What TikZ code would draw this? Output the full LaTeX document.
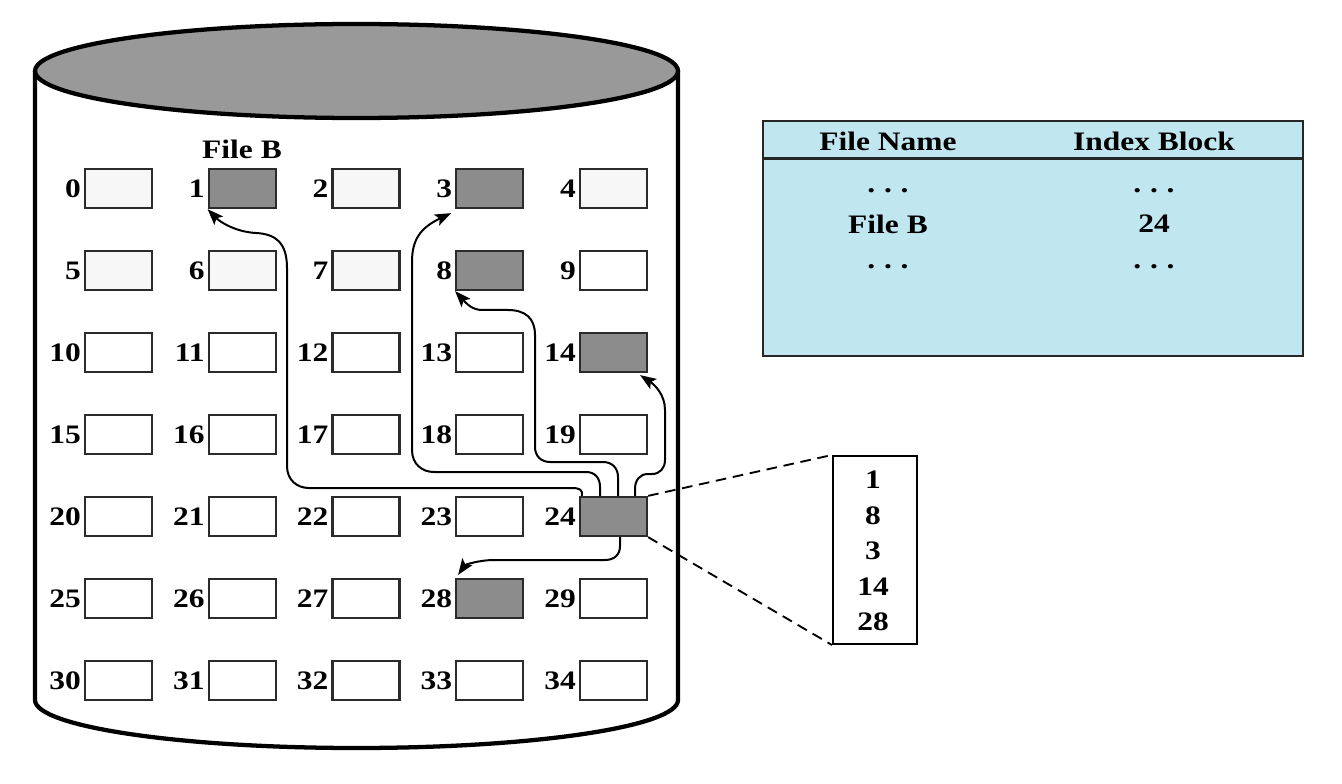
\documentclass[tikz,border=0pt]{standalone}
\usepackage{fontspec}
\setmainfont{Liberation Serif}
\usetikzlibrary{arrows.meta,calc}
\definecolor{shadefill}{HTML}{8C8C8C}
\definecolor{topgray}{HTML}{999999}
\definecolor{tblue}{HTML}{C0E6F0}
\definecolor{edgegray}{HTML}{2B2B2B}
\newcommand\wtxt[1]{\scalebox{1.18}[1]{#1}}
\begin{document}
\begin{tikzpicture}[x=0.75pt,y=-0.75pt,
  blk/.style={draw=edgegray, line width=1.7pt, fill=white, minimum width=50.25pt, minimum height=29.25pt, inner sep=0pt},
  used/.style={blk, fill=shadefill},
  pale/.style={blk, fill=black!3},
  lbl/.style={font=\fontsize{20}{24}\selectfont\bfseries, inner sep=0pt, anchor=east},
  txt/.style={font=\fontsize{20}{24}\selectfont\bfseries, inner sep=0pt},
  cyl/.style={line width=3.2pt, line join=round},
  arr/.style={line width=1.5pt, -{Stealth[length=12pt,width=9pt,inset=2.5pt]}},
  dsh/.style={line width=1.4pt, dash pattern=on 8pt off 5pt}
]
\useasboundingbox (0,0) rectangle (1342,784);

% cylinder
\draw[cyl] (35,71) -- (35,700) .. controls (35,726.5) and (179,748) .. (356.5,748)
  .. controls (534,748) and (678,726.5) .. (678,700) -- (678,71);
\draw[cyl, fill=topgray] (356.5,71) ellipse [x radius=241.1pt, y radius=35.25pt];

% blocks
\foreach \i/\s in {0/pale,1/used,2/pale,3/used,4/pale,5/pale,6/pale,7/pale,8/used,9/blk,
  10/blk,11/blk,12/blk,13/blk,14/used,15/blk,16/blk,17/blk,18/blk,19/blk,
  20/blk,21/blk,22/blk,23/blk,24/used,25/blk,26/blk,27/blk,28/used,29/blk,
  30/blk,31/blk,32/blk,33/blk,34/blk}{
  \pgfmathsetmacro\cx{118.5+123.75*mod(\i,5)}
  \pgfmathsetmacro\cy{188.5+82*floor(\i/5)}
  \node[\s] (b\i) at (\cx,\cy) {};
  \node[lbl] (l\i) at ([xshift=-2pt]b\i.west) {\wtxt{\i}};
}

\node[txt] (fb) at (242,149) {\wtxt{File B}};

% arrows from index block 24
\draw[arr] ($(b24.north west)+(3,0)$) .. controls (583,490) and (580,488) .. (572,488)
  -- (309,488) .. controls (297,488) and (287,480) .. (287,466) -- (287,268)
  .. controls (287,242) and (275,234) .. (256,233) .. controls (236,232) and (220,222) .. (b1.south west);
\draw[arr] ($(b24.north)+(-13.5,0)$) -- (600,487) .. controls (600,478) and (595,472) .. (586,472)
  -- (434,472) .. controls (422,472) and (412,464) .. (412,450) -- (412,262)
  .. controls (412,240) and (420,228) .. ($(b3.south west)+(-4,4)$);
\draw[arr] ($(b24.north)+(4.5,0)$) -- (618,477) .. controls (618,468) and (612,462) .. (603,462)
  -- (550,462) .. controls (541,462) and (535,456) .. (535,447) -- (535,335)
  .. controls (535,318) and (525,310) .. (508,310) -- (482,310)
  .. controls (472,310) and (466,303) .. (b8.south west);
\draw[arr] ($(b24.north)+(21.5,0)$) -- (635,489) .. controls (635,480) and (640,474) .. (648,474)
  -- (652,474) .. controls (660,474) and (665,468) .. (665,460) -- (665,410)
  .. controls (665,395) and (655,385) .. ($(b14.south east)+(-8,2)$);
\draw[arr] ($(b24.south)+(6.5,0)$) -- (620,546) .. controls (620,555) and (614,560) .. (605,560)
  -- (495,560) .. controls (478,560) and (465,565) .. ($(b28.north west)+(3,-3)$);

% index block contents
\node[draw, line width=1.5pt, fill=white, minimum width=63pt, minimum height=141pt, inner sep=0pt] (idx) at (875,550) {};
\foreach \v [count=\k from 0] in {1,8,3,14,28}{
  \node[txt] (n\k) at (873,{480+35.5*\k}) {\wtxt{\v}};
}
\draw[dsh] (b24.north east) -- (idx.north west);
\draw[dsh] (b24.south east) -- (idx.south west);

% directory table
\node[draw=black!85, line width=2pt, fill=tblue, minimum width=405pt, minimum height=176.25pt, inner sep=0pt] (tbl) at (1033,238.5) {};
\draw[line width=2pt, draw=black!85] ($(tbl.north west)+(0,39)$) -- ($(tbl.north east)+(0,39)$);
\node[txt] (h1) at (888,141) {\wtxt{File Name}};
\node[txt] (h2) at (1154,141) {\wtxt{Index Block}};
\node[txt] (d1) at (888,191) {\wtxt{.\hspace{0.28em}.\hspace{0.28em}.}};
\node[txt] (d2) at (1154,191) {\wtxt{.\hspace{0.28em}.\hspace{0.28em}.}};
\node[txt] (f1) at (888,224) {\wtxt{File B}};
\node[txt] (f2) at (1154,224) {\wtxt{24}};
\node[txt] (d3) at (888,267) {\wtxt{.\hspace{0.28em}.\hspace{0.28em}.}};
\node[txt] (d4) at (1154,267) {\wtxt{.\hspace{0.28em}.\hspace{0.28em}.}};
\end{tikzpicture}
\end{document}
